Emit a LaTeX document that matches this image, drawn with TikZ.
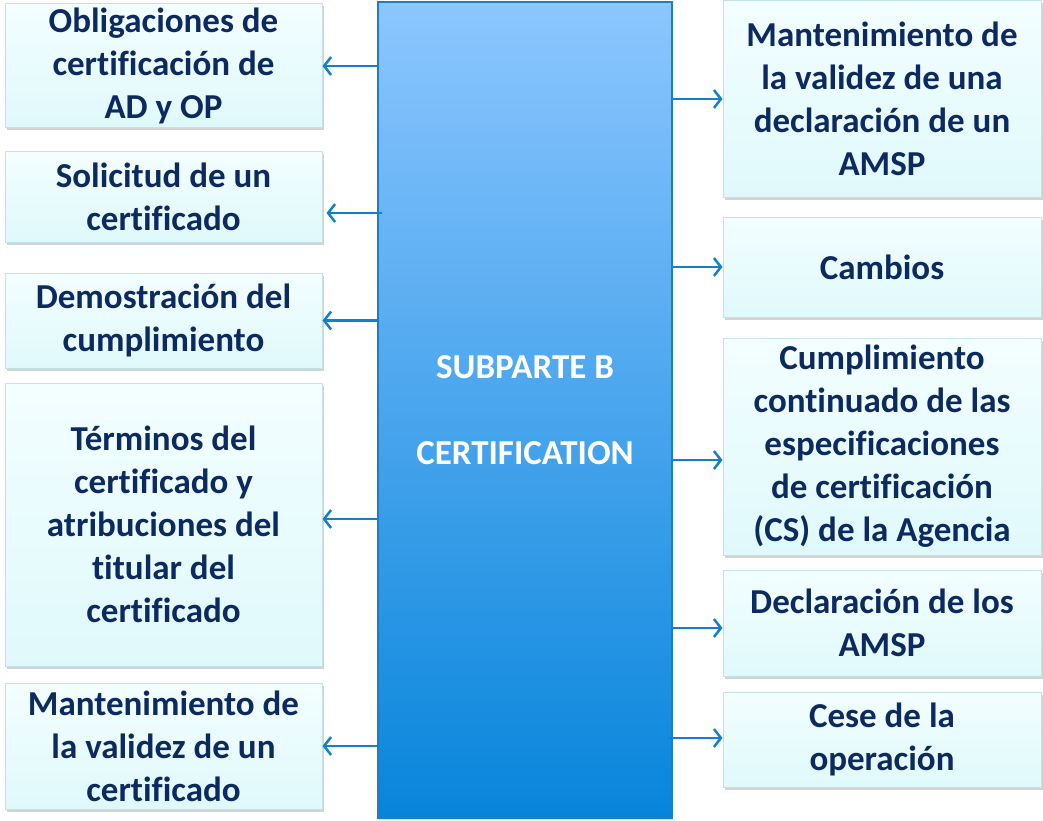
\documentclass[tikz,border=0pt]{standalone}
\usepackage{fontspec}
\setmainfont{Carlito}[Ligatures=CommonOff]
\usepackage{tikz}
\usetikzlibrary{arrows.meta, positioning, shadows, calc}
\definecolor{itemtop}{HTML}{F3FEFF}
\definecolor{itembot}{HTML}{DFF9FB}
\definecolor{itemline}{HTML}{C4E2E6}
\definecolor{itemtext}{HTML}{0C2A5F}
\definecolor{sbtop}{HTML}{8CC6FF}
\definecolor{sbbot}{HTML}{0785DB}
\definecolor{sbline}{HTML}{1A7FC6}
\definecolor{link}{HTML}{1380C9}

\begin{document}
\begin{tikzpicture}[x=1pt, y=-1pt,
  item/.style={draw=itemline, line width=1pt, top color=itemtop, bottom color=itembot,
    align=center, text=itemtext, inner sep=0pt,
    font=\bfseries\fontsize{35}{43}\selectfont,
    drop shadow={opacity=0.35, shadow xshift=1.5pt, shadow yshift=-2.5pt}},
  litem/.style={item, minimum width=317pt},
  ritem/.style={item, minimum width=318pt},
  fl/.style={-{Straight Barb[length=7pt, width=18pt, line width=2.5pt]}, line width=2.5pt, link}]
  \useasboundingbox (0,0) rectangle (1043,821);
  % central block
  \node[draw=sbline, line width=1.5pt, top color=sbtop, bottom color=sbbot,
    minimum width=294pt, minimum height=816pt, align=center, text=white,
    font=\bfseries\fontsize{35}{43}\selectfont,
    drop shadow={opacity=0.25, shadow xshift=1pt, shadow yshift=-2pt}]
    (sb) at (525,410) {SUBPARTE B\\[43pt]CERTIFICATION};
  % left column
  \node[litem, minimum height=124pt] (l1) at (163.5,66) {Obligaciones de\\certificación de\\AD y OP};
  \node[litem, minimum height=90pt] (l2) at (163.5,197) {Solicitud de un\\certificado};
  \node[litem, minimum height=95pt] (l3) at (163.5,320.5) {Demostración del\\cumplimiento};
  \node[litem, minimum height=283pt] (l4) at (163.5,524.5) {Términos del\\certificado y\\atribuciones del\\titular del\\certificado};
  \node[litem, minimum height=126pt] (l5) at (163.5,746) {Mantenimiento de\\la validez de un\\certificado};
  % right column
  \node[ritem, minimum height=196pt] (r1) at (882,99) {Mantenimiento de\\la validez de una\\declaración de un\\AMSP};
  \node[ritem, minimum height=100pt] (r2) at (882,267) {Cambios};
  \node[ritem, minimum height=217pt] (r3) at (882,446.5) {Cumplimiento\\continuado de las\\especificaciones\\de certificación\\(CS) de la Agencia};
  \node[ritem, minimum height=106pt] (r4) at (882,623) {Declaración de los\\AMSP};
  \node[ritem, minimum height=95pt] (r5) at (882,739.5) {Cese de la\\operación};
  % arrow heights that are off centre
  \coordinate (a2) at ($(l2.east)+(4,16)$);
  \coordinate (a4) at ($(l4.east)+(0,-5.5)$);
  \coordinate (b3) at ($(r3.west)+(0,13.5)$);
  \coordinate (b4) at ($(r4.west)+(0,5)$);
  \coordinate (b5) at ($(r5.west)+(0,-1.5)$);
  % connectors
  \draw[fl] (sb.west |- l1.east) -- (l1.east);
  \draw[fl] ($(sb.west |- a2)+(5,0)$) -- (a2);
  \draw[fl] (sb.west |- l3.east) -- (l3.east);
  \draw[fl] (sb.west |- a4) -- (a4);
  \draw[fl] (sb.west |- l5.east) -- (l5.east);
  \draw[fl] (sb.east |- r1.west) -- (r1.west);
  \draw[fl] (sb.east |- r2.west) -- (r2.west);
  \draw[fl] (sb.east |- b3) -- (b3);
  \draw[fl] (sb.east |- b4) -- (b4);
  \draw[fl] ($(sb.east |- b5)+(-5,0)$) -- (b5);
\end{tikzpicture}
\end{document}
